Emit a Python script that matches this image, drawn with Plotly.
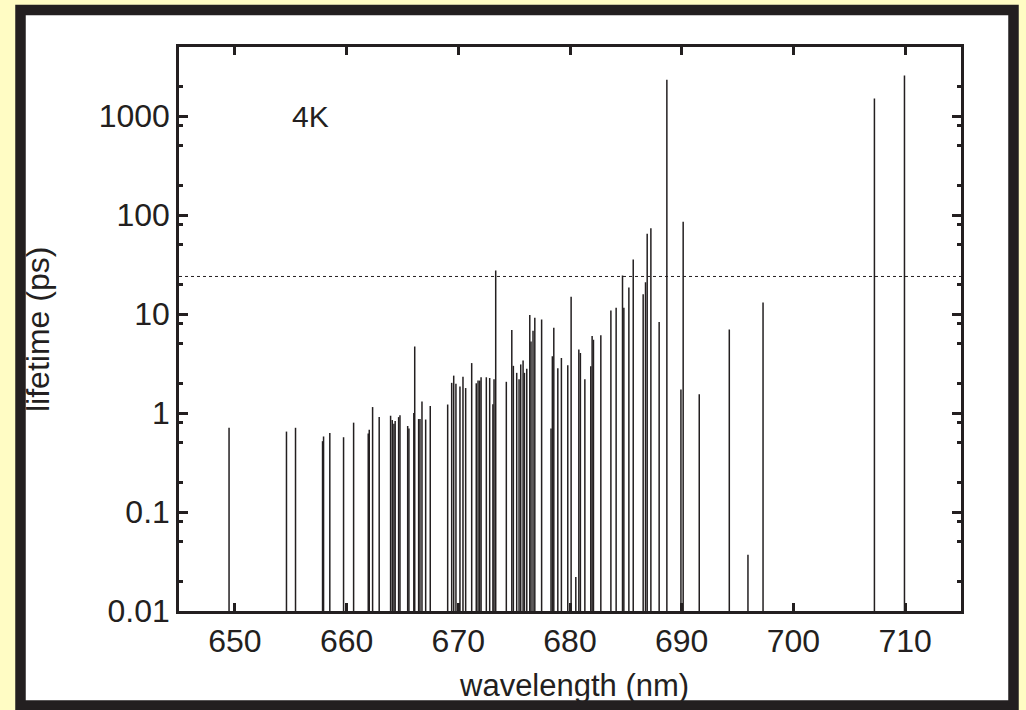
import math
import plotly.graph_objects as go

# wavelength (nm) of each impulse
wavelength = [
    649.48, 654.62, 655.43, 657.85, 657.94, 658.50, 659.73, 660.63, 661.94, 662.03,
    662.33, 662.92, 663.94, 664.09, 664.24, 664.35, 664.66, 664.78, 665.47, 665.58,
    666.02, 666.10, 666.45, 666.57, 666.75, 667.08, 667.49,
    669.05, 669.41, 669.59, 669.79, 670.15, 670.42, 670.66, 671.20, 671.61, 671.77,
    671.92, 672.04, 672.51, 672.81, 673.10, 673.20, 673.35, 674.30, 674.79, 674.93,
    675.23, 675.44, 675.59, 675.80, 675.92, 676.13, 676.40, 676.51, 676.69, 676.85,
    677.46, 678.30, 678.42, 678.55, 678.91, 679.23, 679.80, 680.10, 680.52, 680.79,
    680.93, 681.33, 681.86, 681.98, 682.10, 682.76, 683.66, 684.13, 684.70, 684.82,
    685.27, 685.66, 686.55, 686.76, 686.91, 687.24, 687.98, 688.67, 689.93, 690.13,
    691.57, 694.26, 695.93, 697.28, 707.25, 709.94,
]
# lifetime (ps) of each impulse
lifetime = [
    0.71, 0.65, 0.71, 0.52, 0.58, 0.63, 0.57, 0.80, 0.62, 0.68,
    1.15, 0.91, 0.94, 0.85, 0.78, 0.83, 0.91, 0.95, 0.74, 0.70,
    1.00, 4.7, 0.87, 0.87, 1.31, 0.86, 1.18,
    1.22, 2.02, 2.39, 1.98, 1.86, 2.33, 1.79, 3.2, 2.0, 2.13,
    2.13, 2.3, 2.3, 2.26, 1.23, 2.2, 27.6, 2.07, 6.9, 3.0,
    2.55, 2.2, 3.1, 3.4, 2.55, 2.8, 9.8, 5.3, 6.8, 9.2,
    8.8, 0.70, 3.75, 7.3, 2.83, 3.6, 3.05, 15.0, 0.022, 4.4,
    4.05, 2.2, 2.97, 6.0, 5.5, 6.1, 10.9, 11.6, 24.5, 11.6,
    18.6, 35.7, 15.9, 21.0, 64.7, 73.5, 8.3, 2330, 1.73, 85.5,
    1.55, 7.0, 0.037, 13.1, 1510, 2580,
]
threshold = 24.0
baseline = 0.01
x_range = [645, 715]
y_range = [0.01, 5000]
x_ticks = [650, 660, 670, 680, 690, 700, 710]
y_ticks = [0.01, 0.1, 1, 10, 100, 1000]
y_tick_text = ["0.01", "0.1", "1", "10", "100", "1000"]
y_minor = [m * 10.0 ** e for e in range(-2, 4) for m in (2, 5, 8)]
label_text = "4K"
x_title = "wavelength (nm)"
y_title = "lifetime (ps)"

ink = "#231f20"
font_family = "Liberation Sans, Arial, Helvetica, sans-serif"
FS = 30
TICK_FS = 32

xs, ys = [], []
for w, v in zip(wavelength, lifetime):
    xs += [w, w, None]
    ys += [baseline, v, None]

fig = go.Figure()
fig.add_trace(go.Scatter(x=xs, y=ys, mode="lines",
                         line=dict(color=ink, width=1.5),
                         hoverinfo="skip", showlegend=False))

W, H = 1026, 710
pl, pr, pt, pb = 179, 961, 47, 611

fig.update_layout(
    width=W, height=H,
    margin=dict(l=pl, r=W - pr, t=pt, b=H - pb, pad=0),
    paper_bgcolor="#fffcc4",
    plot_bgcolor="white",
    font=dict(family=font_family, size=FS, color=ink),
    showlegend=False,
    xaxis=dict(
        range=x_range, tickvals=x_ticks, ticks="inside", ticklen=8, tickwidth=2.5,
        tickcolor=ink, showline=True, linecolor=ink, linewidth=2.5, mirror="ticks",
        showgrid=False, zeroline=False, tickfont=dict(size=TICK_FS),
        ticklabelstandoff=0,
    ),
    yaxis=dict(
        type="log", range=[math.log10(y_range[0]), math.log10(y_range[1])],
        tickvals=y_ticks, ticktext=y_tick_text, ticks="inside", ticklen=9, tickwidth=2.5,
        tickcolor=ink, showline=True, linecolor=ink, linewidth=2.5, mirror="ticks",
        showgrid=False, zeroline=False, tickfont=dict(size=TICK_FS),
        minor=dict(tickvals=y_minor, ticks="inside", ticklen=4, tickwidth=2.5,
                   tickcolor=ink, showgrid=False),
    ),
)

def px_to_paper_x(p):
    return (p - pl) / (pr - pl)

def px_to_paper_y(p):
    return (pb - p) / (pb - pt)

# white panel with thick black frame
fig.add_shape(type="rect", xref="paper", yref="paper", layer="below",
              x0=px_to_paper_x(20.5), x1=px_to_paper_x(1013.5),
              y0=px_to_paper_y(705.5), y1=px_to_paper_y(10),
              line=dict(color=ink, width=10.5), fillcolor="white")

fig.add_shape(type="line", xref="paper", yref="y", x0=0, x1=1,
              y0=threshold, y1=threshold,
              line=dict(color=ink, width=1, dash="dot"))

fig.add_annotation(x=654.9, y=3, xref="x", yref="y", text=label_text,
                   showarrow=False, xanchor="left", yanchor="middle",
                   font=dict(size=FS, color=ink))

fig.add_annotation(x=px_to_paper_x(574), y=px_to_paper_y(686), xref="paper", yref="paper",
                   text=x_title, showarrow=False, xanchor="center", yanchor="middle",
                   font=dict(size=31, color=ink))
fig.add_annotation(x=px_to_paper_x(38), y=px_to_paper_y(330), xref="paper", yref="paper",
                   text=y_title, showarrow=False, xanchor="center", yanchor="middle",
                   textangle=-90, font=dict(size=32, color=ink))

fig.write_html("out.html", config={"displayModeBar": False},
               post_script="document.body.style.margin='0';")
